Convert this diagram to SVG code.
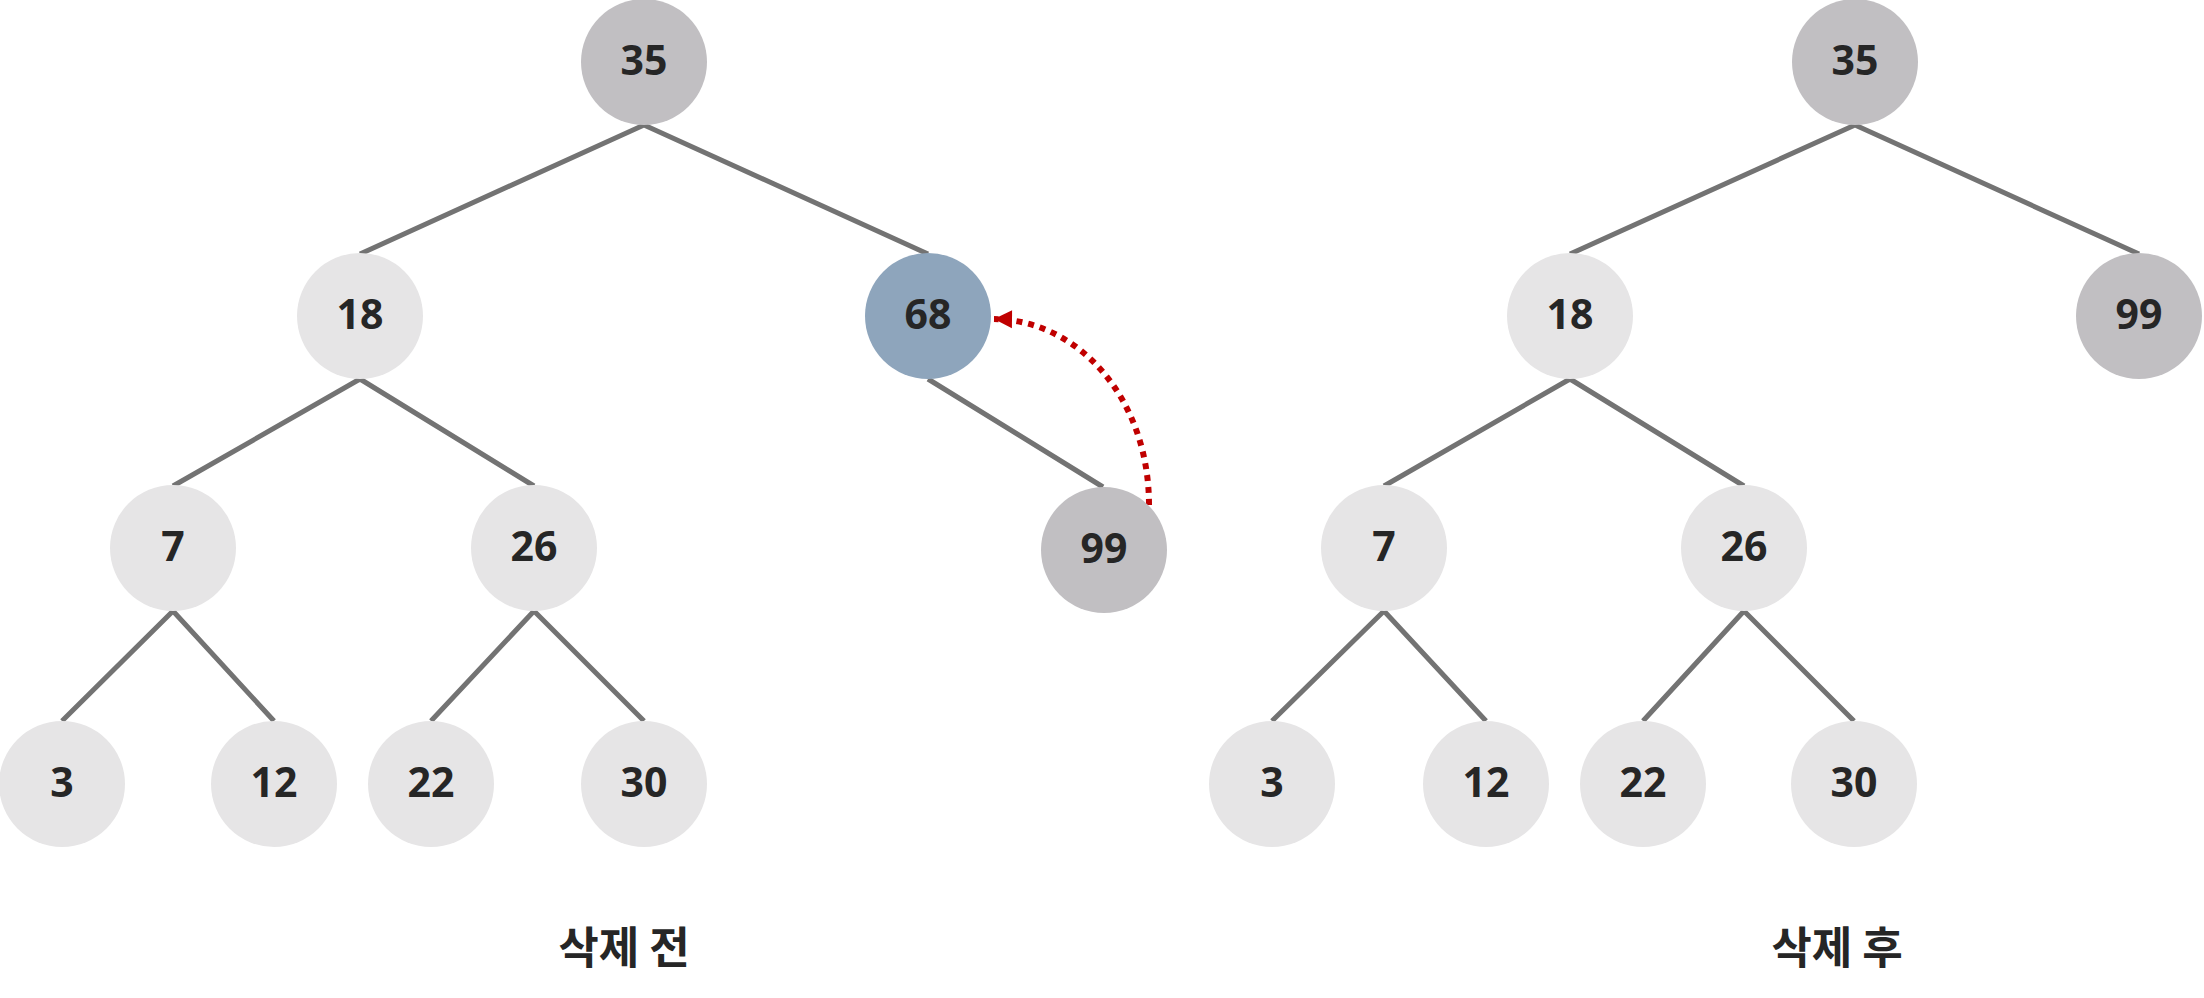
<svg xmlns="http://www.w3.org/2000/svg" width="2204" height="998" viewBox="0 0 2204 998">
<style>
.e{stroke:#737373;stroke-width:5;fill:none}
.l{fill:#e6e5e6}
.g{fill:#c1bfc2}
.b{fill:#8ea5bc}
.t{font-family:"Noto Sans","Noto Sans CJK KR",sans-serif;font-weight:bold;font-size:41px;fill:#262626;text-anchor:middle;dominant-baseline:central}
.cap{font-family:"Noto Sans CJK KR","Noto Sans",sans-serif;font-weight:bold;font-size:44px;fill:#262626;text-anchor:middle;dominant-baseline:central}
</style>
<defs>
<marker id="ah" markerUnits="userSpaceOnUse" markerWidth="20" markerHeight="20" refX="18" refY="9" orient="auto" overflow="visible">
<path d="M0,0 L18,9 L0,18 Z" fill="#c00000"/>
</marker>
</defs>
<g id="connectors">
<path class="e" d="M644,125 L360,254 M644,125 L928,254 M360,379 L173,486 M360,379 L534,486 M928,379 L1103,487 M173,611 L62,721 M173,611 L274,721 M534,611 L431,721 M534,611 L644,721"/>
<path class="e" d="M1855,125 L1570,254 M1855,125 L2139,254 M1570,379 L1384,486 M1570,379 L1744,486 M1384,611 L1272,721 M1384,611 L1486,721 M1744,611 L1643,721 M1744,611 L1854,721"/>
<path d="M1149,505 C1149,400 1080,320 994,319" fill="none" stroke="#c00000" stroke-width="6" stroke-dasharray="6 6" marker-end="url(#ah)"/>
</g>
<g id="L35"><circle class="g" cx="644" cy="62" r="63"/><text class="t" x="644" y="59">35</text></g>
<g id="L18"><circle class="l" cx="360" cy="316" r="63"/><text class="t" x="360" y="313">18</text></g>
<g id="L68"><circle class="b" cx="928" cy="316" r="63"/><text class="t" x="928" y="313">68</text></g>
<g id="L7"><circle class="l" cx="173" cy="548" r="63"/><text class="t" x="173" y="545">7</text></g>
<g id="L26"><circle class="l" cx="534" cy="548" r="63"/><text class="t" x="534" y="545">26</text></g>
<g id="L99"><circle class="g" cx="1104" cy="550" r="63"/><text class="t" x="1104" y="547">99</text></g>
<g id="L3"><circle class="l" cx="62" cy="784" r="63"/><text class="t" x="62" y="781">3</text></g>
<g id="L12"><circle class="l" cx="274" cy="784" r="63"/><text class="t" x="274" y="781">12</text></g>
<g id="L22"><circle class="l" cx="431" cy="784" r="63"/><text class="t" x="431" y="781">22</text></g>
<g id="L30"><circle class="l" cx="644" cy="784" r="63"/><text class="t" x="644" y="781">30</text></g>
<g id="R35"><circle class="g" cx="1855" cy="62" r="63"/><text class="t" x="1855" y="59">35</text></g>
<g id="R18"><circle class="l" cx="1570" cy="316" r="63"/><text class="t" x="1570" y="313">18</text></g>
<g id="R99"><circle class="g" cx="2139" cy="316" r="63"/><text class="t" x="2139" y="313">99</text></g>
<g id="R7"><circle class="l" cx="1384" cy="548" r="63"/><text class="t" x="1384" y="545">7</text></g>
<g id="R26"><circle class="l" cx="1744" cy="548" r="63"/><text class="t" x="1744" y="545">26</text></g>
<g id="R3"><circle class="l" cx="1272" cy="784" r="63"/><text class="t" x="1272" y="781">3</text></g>
<g id="R12"><circle class="l" cx="1486" cy="784" r="63"/><text class="t" x="1486" y="781">12</text></g>
<g id="R22"><circle class="l" cx="1643" cy="784" r="63"/><text class="t" x="1643" y="781">22</text></g>
<g id="R30"><circle class="l" cx="1854" cy="784" r="63"/><text class="t" x="1854" y="781">30</text></g>
<g id="captions">
<text class="cap" x="624" y="945">삭제 전</text>
<text class="cap" x="1837" y="945">삭제 후</text>
</g>
</svg>
